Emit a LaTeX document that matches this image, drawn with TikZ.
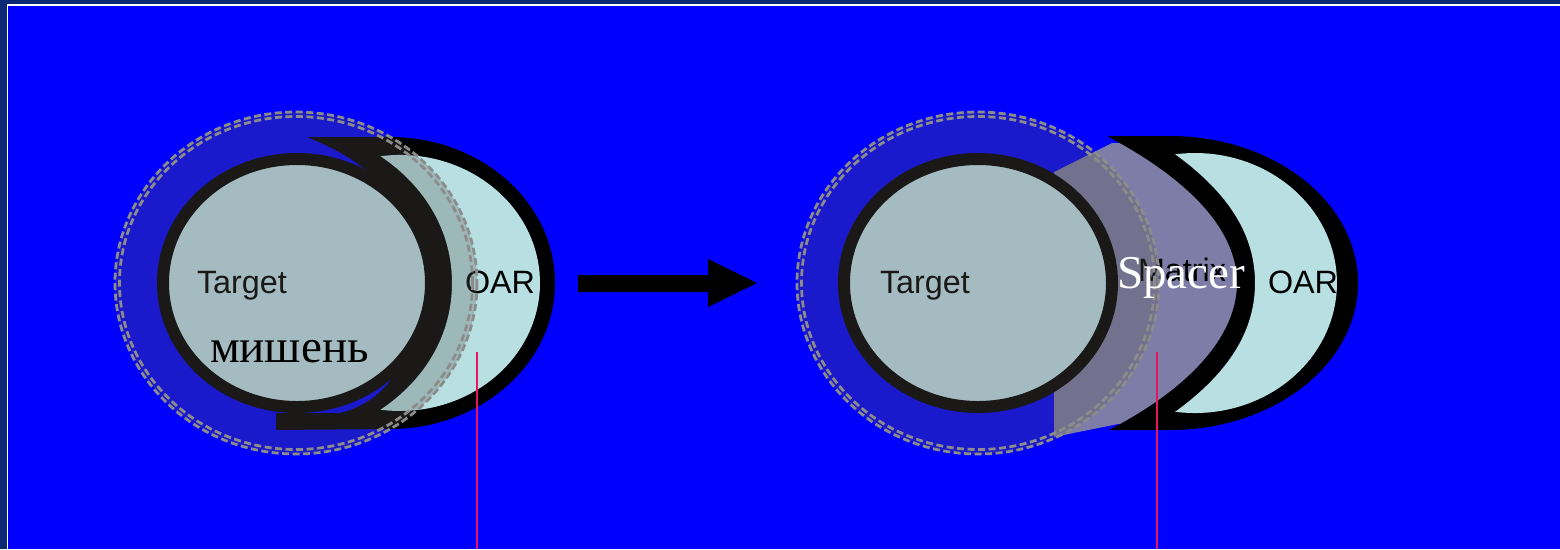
\documentclass[tikz,border=0pt]{standalone}
\usepackage{fontspec}
\setmainfont{Liberation Serif}
\setsansfont{Liberation Sans}
\definecolor{navy}{RGB}{12,42,115}
\definecolor{bgblue}{RGB}{0,0,255}
\definecolor{oarc}{RGB}{184,224,227}
\definecolor{tgtc}{RGB}{195,230,240}
\definecolor{haloc}{RGB}{90,88,80}
\definecolor{dashc}{RGB}{140,140,140}
\definecolor{spacerc}{RGB}{125,125,168}
\definecolor{pinkc}{RGB}{232,20,95}
\tikzset{
  lbl/.style={inner sep=0pt, outer sep=0pt, anchor=base west},
  sanslbl/.style={lbl, font=\fontsize{18.4pt}{21pt}\sffamily},
  seriflbl/.style={lbl, font=\fontsize{26.8pt}{30pt}\rmfamily},
  halo/.style={fill=haloc, fill opacity=0.29},
  dashring/.style={draw=dashc, line width=0.055cm, dash pattern=on 0.14cm off 0.07cm},
  ring/.style={draw=black, line width=0.24cm, fill=tgtc},
  pinkline/.style={draw=pinkc, line width=0.04cm}
}
\begin{document}
\begin{tikzpicture}[x=0.02cm,y=-0.02cm]
% background and frame
\fill[navy] (0,0) rectangle (1560,549);
\fill[white] (6.5,3.8) rectangle (1560,549);
\fill[bgblue] (8.2,5.6) rectangle (1560,549);
\useasboundingbox (0,0) rectangle (1560,549);

% ---------- left diagram ----------
% OAR crescent (black)
\fill[black] (307,137) -- (390,137) arc[start angle=-90,end angle=90,x radius=165,y radius=146]
  -- (276,430) -- (276,413) -- (340,413)
  .. controls (395,400) and (418,345) .. (418,283)
  .. controls (418,220) and (390,170) .. (307,137) -- cycle;
% OAR inner
\fill[oarc] (380.5,156.2) arc[start angle=-98,end angle=98,x radius=140,y radius=128]
  .. controls (425,380) and (452,335) .. (452,283)
  .. controls (452,231) and (425,186) .. (380.5,156.2) -- cycle;
% target
\path[ring] (297,283) ellipse[x radius=134, y radius=124];
\node[sanslbl] (tgtL) at (197,293) {Target};
\node[sanslbl] (oarL) at (465,293) {OAR};
% halo
\path[halo] (296,283) ellipse[x radius=181, y radius=171];
\draw[dashring] (296,283) ellipse[x radius=181, y radius=171];
\draw[dashring] (296,283) ellipse[x radius=176.5, y radius=166.5];
\node[seriflbl] (mishen) at (210,362) {мишень};

% arrow
\fill[black] (578,275) -- (708,275) -- (708,259) -- (757,283) -- (708,307) -- (708,292) -- (578,292) -- cycle;

% ---------- right diagram ----------
% spacer (its right part lies under the OAR crescent)
\fill[spacerc] (1054,172) -- (1112,143) -- (1200,143) -- (1245,165) -- (1245,400)
  -- (1200,424) -- (1118,424) -- (1054,437) -- cycle;
% OAR crescent
\fill[black] (1107,136) -- (1170,136) arc[start angle=-90,end angle=90,x radius=188,y radius=147]
  -- (1109,430)
  .. controls (1190,388) and (1237,336) .. (1237,283)
  .. controls (1237,230) and (1190,180) .. (1107,136) -- cycle;
\fill[oarc] (1175.2,154.3) arc[start angle=-98,end angle=98,x radius=142,y radius=130]
  .. controls (1230,372) and (1255,330) .. (1255,283)
  .. controls (1255,236) and (1230,194) .. (1175.2,154.3) -- cycle;
% target
\path[ring] (978,283) ellipse[x radius=134, y radius=124];
\node[sanslbl] (tgtR) at (880,293) {Target};
\node[sanslbl] (oarR) at (1268,293) {OAR};
\node[sanslbl] (matrix) at (1138,281) {Matrix};
% halo
\path[halo] (978,283) ellipse[x radius=181, y radius=171];
\draw[dashring] (978,283) ellipse[x radius=181, y radius=171];
\draw[dashring] (978,283) ellipse[x radius=176.5, y radius=166.5];
\node[seriflbl, text=white] (spacer) at (1117,288) {Spacer};

% pink lines
\coordinate (p1a) at (476.5,352);
\coordinate (p1b) at (476.5,549);
\coordinate (p2a) at (1157,352);
\coordinate (p2b) at (1157,549);
\draw[pinkline] (p1a) -- (p1b);
\draw[pinkline] (p2a) -- (p2b);
\end{tikzpicture}
\end{document}
